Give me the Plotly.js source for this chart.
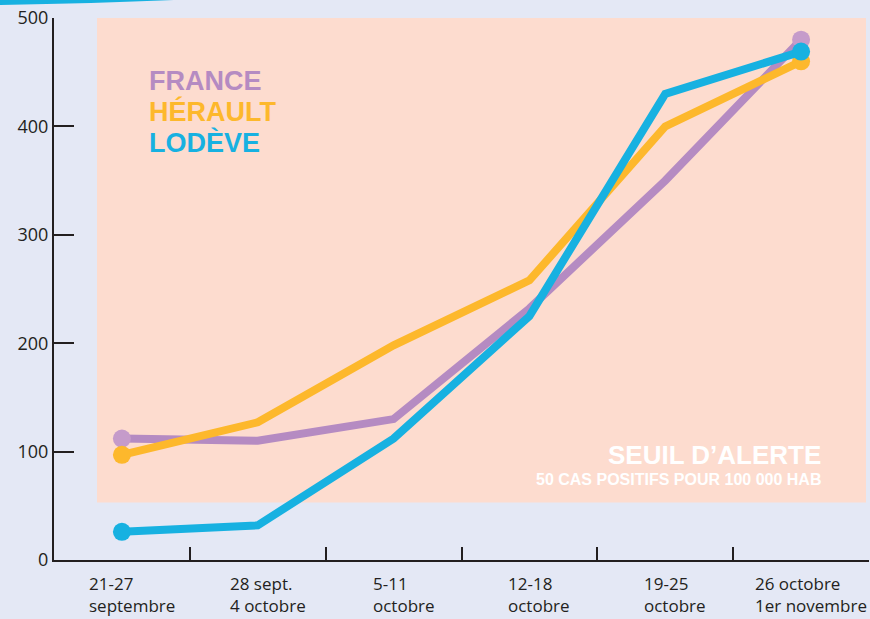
<!DOCTYPE html>
<html><head><meta charset="utf-8">
<script src="https://cdn.plot.ly/plotly-3.0.1.min.js"></script>
<style>html,body{margin:0;padding:0;background:#e4e8f5}</style>
</head><body><div id="chart" style="width:870px;height:619px"></div>
<script>
// ---- data ----
const weekLine1 = ["21-27","28 sept.","5-11","12-18","19-25","26 octobre"];
const weekLine2 = ["septembre","4 octobre","octobre","octobre","octobre","1er novembre"];
const weeks = weekLine1.map((a,i)=>a+" "+weekLine2[i]);
const france  = [112,110,130,232,350,480];
const herault = [97,127,198,258,400,460];
const lodeve  = [26,32,112,225,430,469];
const seriesNames = ["FRANCE","HÉRAULT","LODÈVE"];
const yTicks = [0,100,200,300,400,500];
const zoneBottom = 53, zoneTop = 501;
const alertTitle = "SEUIL D’ALERTE";
const alertSub = "50 CAS POSITIFS POUR 100 000 HAB";

// ---- style ----
const W=870,H=619,L=54,R=1,T=18,B=59;
const pw=W-L-R, ph=H-T-B;
const px=x=>(x-L)/pw, py=y=>(H-B-y)/ph;
const INK="#231f20", BG="#e4e8f5", PINK="#fddccf";
const colors=["#b58bc2","#fdb82c","#17b1e1"];
const markerColors=["#c59bca","#fdb82c","#17b1e1"];
const FONT="Open Sans";
const BOLD="Liberation Sans";
const series=[france,herault,lodeve];

const traces=[];
series.forEach((vals,i)=>{
  traces.push({x:weeks,y:vals,mode:"lines",line:{color:colors[i],width:8},hoverinfo:"skip",cliponaxis:false});
  const n=vals.length-1;
  traces.push({x:[weeks[0],weeks[n]],y:[vals[0],vals[n]],mode:"markers",marker:{size:18,color:markerColors[i]},hoverinfo:"skip",cliponaxis:false});
});

const LBL=17;
const annotations=[];
weeks.forEach((w,i)=>{
  annotations.push({x:w,xref:"x",y:py(570),yref:"paper",xanchor:"center",yanchor:"top",xshift:10,align:"left",
    text:weekLine1[i]+"<br>"+weekLine2[i],showarrow:false,font:{family:FONT,size:LBL,color:INK}});
});
seriesNames.forEach((s,i)=>{
  annotations.push({x:px(147),xref:"paper",y:py(81+i*30.5),yref:"paper",xanchor:"left",yanchor:"middle",
    text:s,showarrow:false,font:{family:BOLD,size:27,weight:700,color:colors[i]}});
});
annotations.push({x:px(823),xref:"paper",y:py(455.3),yref:"paper",xanchor:"right",yanchor:"middle",
  text:alertTitle,showarrow:false,font:{family:BOLD,size:26,weight:700,color:"#ffffff"}});
annotations.push({x:px(823),xref:"paper",y:py(479),yref:"paper",xanchor:"right",yanchor:"middle",
  text:alertSub,showarrow:false,font:{family:BOLD,size:16,weight:700,color:"#ffffff"}});

const shapes=[
  {type:"rect",xref:"paper",yref:"y",x0:px(97),x1:px(866),y0:zoneBottom,y1:zoneTop,fillcolor:PINK,line:{width:0},layer:"below"},
  {type:"path",xref:"paper",yref:"paper",
   path:`M ${px(-2)},${py(-2)} L ${px(216)},${py(-2)} Q ${px(120)},${py(3)} ${px(-2)},${py(5)} Z`,
   fillcolor:"#17b1e1",line:{width:0}}
];

const layout={
  width:W,height:H,margin:{l:L,r:R,t:T,b:B,pad:0},
  paper_bgcolor:BG,plot_bgcolor:BG,showlegend:false,
  font:{family:FONT,color:INK},
  xaxis:{type:"category",range:[-0.5,weeks.length-0.5],tickson:"boundaries",ticks:"inside",ticklen:13,tickwidth:2,
    tickcolor:INK,showline:true,linecolor:INK,linewidth:2,showgrid:false,zeroline:false,showticklabels:false,fixedrange:true},
  yaxis:{range:[0,500],tickvals:yTicks,ticks:"inside",ticklen:20,tickwidth:2,tickcolor:INK,showline:true,linecolor:INK,
    linewidth:2,showgrid:false,zeroline:false,tickfont:{family:FONT,size:18,color:INK},fixedrange:true},
  shapes:shapes,annotations:annotations
};
Plotly.newPlot("chart",traces,layout,{displayModeBar:false,staticPlot:true});
</script></body></html>
